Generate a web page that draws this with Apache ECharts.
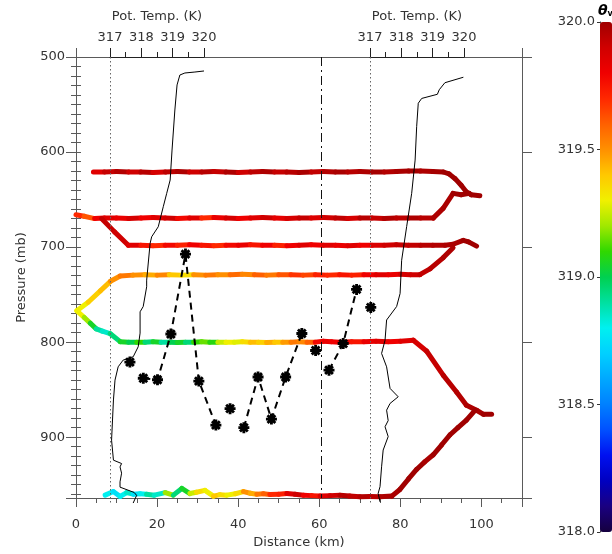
<!DOCTYPE html>
<html>
<head>
<meta charset="utf-8">
<script src="https://cdn.jsdelivr.net/npm/echarts@6/dist/echarts.min.js"></script>
<style>
  html, body { margin: 0; padding: 0; background: #ffffff; }
  #chart { width: 612px; height: 554px; }
</style>
</head>
<body>
<div id="chart"></div>
<script>
// ---- Flight legs: distance (km), pressure (mb), virtual potential temperature (K) ----
const legA_dist  = [4.3, 7, 10, 13, 16, 19, 22, 25, 28, 31, 34, 37, 40, 43, 46, 49, 52, 55, 58, 61, 64, 67, 70, 73, 76, 79, 82, 85, 88, 90.6, 92, 93.5, 95, 96.3, 97.5, 99.6];
const legA_pres  = [621, 621, 620.5, 621, 621, 621.5, 621, 620.5, 621, 621, 620.5, 621, 621.5, 621, 620.5, 621, 621, 621.5, 621, 620.5, 621, 621, 620.5, 621, 621, 620.5, 620, 620, 620.5, 621, 623, 628, 635, 642, 645, 646];
const legA_theta = [319.85, 319.92, 319.96, 319.9, 319.95, 319.88, 319.94, 319.97, 319.9, 319.95, 319.92, 319.97, 319.9, 319.94, 319.97, 319.92, 319.95, 319.98, 319.93, 319.96, 319.98, 319.95, 319.97, 319.99, 319.96, 319.98, 319.99, 319.97, 319.99, 320, 320, 320, 320, 320, 320, 320];

const legB_dist  = [0, 2, 4.6, 7, 10, 13, 16, 19, 22, 25, 28, 31, 34, 37, 40, 43, 46, 49, 52, 55, 58, 61, 64, 67, 70, 73, 76, 79, 82, 85, 88.1, 90.6, 93, 95, 97];
const legB_pres  = [666, 667.5, 670, 669.5, 669.5, 670, 669.5, 669, 669.5, 670, 669.5, 669.5, 669, 669.5, 670, 669.5, 669, 669.5, 670, 669.5, 669.5, 669, 669.5, 670, 669.5, 669.5, 670, 669.5, 669.5, 669.5, 669.5, 659, 643.5, 645, 643.5];
const legB_theta = [319.7, 319.62, 319.8, 319.85, 319.82, 319.88, 319.8, 319.85, 319.9, 319.78, 319.85, 319.7, 319.82, 319.88, 319.8, 319.85, 319.9, 319.83, 319.88, 319.92, 319.86, 319.9, 319.93, 319.88, 319.95, 319.92, 319.96, 319.94, 319.97, 319.95, 319.97, 319.98, 320, 320, 320];

const legC_dist  = [6.3, 9.5, 12.9, 16, 19, 22, 25, 28, 31, 34, 37, 40, 43, 46, 49, 52, 55, 58, 61, 64, 67, 70, 73, 76, 79, 82, 85, 88, 91, 93, 95.5, 96.8, 98.8];
const legC_pres  = [670, 684, 698, 698, 698.5, 698, 698, 697.5, 698, 698.5, 698, 698, 697.5, 698, 698, 698.5, 698, 697.5, 698, 698, 698.5, 698, 698, 698, 697.5, 698, 698, 698, 698, 697, 693, 694.5, 699];
const legC_theta = [319.92, 319.9, 319.85, 319.75, 319.7, 319.78, 319.72, 319.8, 319.75, 319.7, 319.78, 319.82, 319.75, 319.8, 319.72, 319.8, 319.85, 319.8, 319.85, 319.82, 319.85, 319.8, 319.87, 319.9, 319.92, 319.93, 319.95, 319.96, 319.97, 319.98, 320, 320, 320];

const legD_dist  = [0.2, 3, 6, 8.5, 10.9, 14, 17, 20, 23, 26, 29, 32, 35, 38, 41, 44, 47, 50, 53, 56, 59, 62, 65, 68, 71, 74, 77, 80, 82.5, 84.8, 87.3, 90.6, 93];
const legD_pres  = [767, 758, 746, 736, 730.5, 729.5, 729, 729.5, 729, 729.5, 729, 729.5, 729, 729, 728.5, 729, 729.5, 729, 729, 729.5, 729, 729.5, 729, 729.5, 729, 729, 729, 728.5, 729, 729, 723, 711, 700.7];
const legD_theta = [319.3, 319.38, 319.42, 319.5, 319.55, 319.5, 319.45, 319.52, 319.4, 319.35, 319.5, 319.55, 319.5, 319.58, 319.52, 319.6, 319.55, 319.62, 319.68, 319.65, 319.72, 319.7, 319.75, 319.72, 319.8, 319.85, 319.82, 319.88, 319.9, 319.93, 319.95, 319.97, 320];

const legE_dist  = [0.2, 2, 3.5, 5, 6.5, 8.4, 10.9, 13, 15, 17, 19, 21, 23, 25, 27, 29, 31, 33, 35, 37, 39, 41, 43, 45, 47, 49, 51, 53, 55, 57, 59, 61, 63, 65, 68, 71, 74, 77, 80, 83.2, 86.5, 90.6, 93.9, 96.3, 98.8, 100.5, 102.5];
const legE_pres  = [767, 774, 780, 786, 788.5, 791, 799.5, 800, 800, 800, 799.5, 800, 800, 800.5, 800, 800, 799.5, 800, 800, 800, 800, 799.5, 800, 800, 800.5, 800, 800, 800, 799.5, 800, 800, 799, 799.5, 800, 799.5, 799.5, 799, 799.5, 799, 798, 809.6, 835, 852.7, 866.5, 871.7, 876, 876];
const legE_theta = [319.3, 319.2, 319.05, 318.9, 318.85, 318.95, 319.05, 319.0, 319.1, 318.95, 319.05, 318.9, 319.0, 319.05, 318.95, 319.1, 319.15, 319.08, 319.25, 319.3, 319.28, 319.35, 319.42, 319.38, 319.45, 319.4, 319.48, 319.55, 319.52, 319.6, 319.78, 319.82, 319.8, 319.85, 319.75, 319.82, 319.85, 319.8, 319.85, 319.88, 319.92, 319.95, 319.96, 319.97, 319.98, 320, 320];

const legF_dist  = [7.2, 9.2, 10.9, 12.5, 14.1, 15.8, 17.4, 19.3, 22, 24, 26.1, 28.1, 29.7, 31.8, 33.9, 35.5, 37.2, 39.3, 41.3, 43, 44.6, 46.2, 47.8, 50, 52, 54, 56.1, 58.2, 60.2, 62.6, 65.1, 67.5, 70, 72.5, 75, 77.9, 79.9, 82, 84, 86, 88.1, 90.2, 92.2, 94.2, 96.3, 98.4];
const legF_pres  = [961, 957.2, 962.4, 958.3, 960, 959.5, 960, 961, 958.3, 961, 954, 959.3, 958, 956, 962, 960.5, 961, 959.5, 957.3, 959, 960, 959.5, 960.3, 960, 959.3, 960, 961, 961.5, 961.8, 961.5, 961, 962, 962.7, 962.5, 962.7, 962, 955, 944, 934, 926, 918.5, 908, 897.7, 890, 882, 871.7];
const legF_theta = [318.8, 318.75, 318.8, 318.85, 318.75, 318.8, 318.9, 318.85, 319.2, 318.95, 319.05, 319.25, 319.35, 319.3, 319.4, 319.35, 319.3, 319.35, 319.5, 319.45, 319.55, 319.6, 319.7, 319.72, 319.85, 319.9, 319.8, 319.75, 319.85, 319.9, 319.95, 319.93, 319.96, 319.95, 319.97, 319.98, 320, 320, 320, 319.98, 320, 320, 320, 320, 320, 320];

// ---- Sounding profiles: potential temperature (K) vs pressure (mb) ----
const westTheta = [317.74, 317.85, 317.77, 317.32, 317.32, 317.37, 317.32, 317.37, 317.11, 317.05, 317.11, 317.16, 317.26, 317.42, 317.74, 317.90, 317.96, 317.96, 318.06, 318.17, 318.17, 318.28, 318.33, 318.54, 318.70, 318.81, 318.92, 318.98, 319.07, 319.14, 319.23, 319.39, 319.71, 320.0];
const westPres  = [963, 955, 952, 946.5, 941, 932, 925.5, 922, 918.5, 897.7, 856, 835.4, 821.6, 814.6, 811.2, 800.8, 786.6, 764.5, 759, 738.5, 731.6, 693.5, 686.6, 676.2, 655.4, 641.5, 627.7, 596.6, 555, 529, 518.7, 516.6, 515.6, 514.5];
const eastTheta = [317.32, 317.26, 317.32, 317.37, 317.42, 317.58, 317.48, 317.58, 317.53, 317.64, 317.90, 317.64, 317.53, 317.37, 317.48, 317.53, 317.85, 317.96, 318.01, 318.17, 318.33, 318.44, 318.49, 318.54, 318.65, 319.15, 319.21, 319.39, 319.98];
const eastPres  = [961.8, 953, 946, 925.4, 908, 894, 883.8, 877.4, 866.6, 859.6, 852.7, 844, 821.6, 807.7, 794, 773, 759, 745.5, 711, 676, 641.5, 607, 572, 548, 543, 538.7, 534, 526.7, 521];

// ---- Marked points (asterisks) and which ones are joined by the dashed trace ----
const starDist  = [13.3, 16.6, 20.1, 23.4, 27.0, 30.3, 34.5, 38.0, 41.4, 44.9, 48.2, 51.7, 55.7, 59.1, 62.4, 65.9, 69.2, 72.7];
const starPres  = [821, 838, 839.6, 791.5, 707.4, 841, 887.3, 870, 890, 836.7, 881, 836.7, 790.9, 808.8, 829.5, 801.5, 744.5, 763.5];
const starGroup = [0, 1, 1, 1, 1, 1, 1, 2, 3, 3, 3, 3, 3, 4, 5, 5, 5, 6];

// ---- Reference lines and axis ranges ----
const refDistance = [60.4];          // dash-dot marker line (km)
const thetaAxisBase = 317;           // dotted line on each theta axis
const pressureRange = [500, 964];
const distanceRange = [0, 110];
const thetaAxisRange = [317, 320];
const colorRange = [318, 320];
const colorStops = ['#15003f', '#1a0080', '#0000c0', '#0010f0', '#0050ff', '#0080ff', '#00a8ff', '#00d0ff', '#00f0f0', '#00e0a0',
                    '#00d050', '#30d800', '#a0e800', '#f0f000', '#ffc800', '#ff9000', '#ff6000', '#ff2800', '#f00000', '#d00000', '#a00000'];

const FONT = 'DejaVu Sans';
const AXIS_GRAY = '#5a5a5a';
const TEXT = '#333';

function segments(d, p, t) {
  const rows = [];
  for (let i = 0; i < d.length - 1; i++) rows.push([d[i], p[i], t[i], d[i + 1], p[i + 1]]);
  return rows;
}
function zip(a, b) { return a.map((v, i) => [v, b[i]]); }

const legs = [
  [legA_dist, legA_pres, legA_theta],
  [legB_dist, legB_pres, legB_theta],
  [legC_dist, legC_pres, legC_theta],
  [legD_dist, legD_pres, legD_theta],
  [legE_dist, legE_pres, legE_theta],
  [legF_dist, legF_pres, legF_theta]
];

function renderSegment(params, api) {
  const a = api.coord([api.value(0), api.value(1)]);
  const b = api.coord([api.value(3), api.value(4)]);
  return {
    type: 'line',
    shape: { x1: a[0], y1: a[1], x2: b[0], y2: b[1] },
    style: { stroke: api.visual('color'), lineWidth: 5, lineCap: 'round' }
  };
}

const legSeries = legs.map(l => ({
  type: 'custom',
  xAxisIndex: 0, yAxisIndex: 0,
  renderItem: renderSegment,
  encode: { x: 0, y: 1 },
  data: segments(l[0], l[1], l[2]),
  z: 2
}));

// dashed trace through the asterisks, broken between groups
const starLine = [];
for (let i = 0; i < starDist.length; i++) {
  if (i > 0 && starGroup[i] !== starGroup[i - 1]) starLine.push(['-', '-']);
  starLine.push([starDist[i], starPres[i]]);
}

const asterisk = 'path://M-1.3,-5L1.3,-5L1.3,5L-1.3,5Z M-5,-1.3L5,-1.3L5,1.3L-5,1.3Z ' +
  'M-4.46,-2.62L-2.62,-4.46L4.46,2.62L2.62,4.46Z M2.62,-4.46L4.46,-2.62L-2.62,4.46L-4.46,2.62Z';

const labelStyle = { color: TEXT, fontFamily: FONT, fontSize: 13 };
const dottedMark = {
  silent: true, symbol: 'none', label: { show: false },
  lineStyle: { type: [1.5, 2.5], color: '#666', width: 1 },
  data: [{ xAxis: thetaAxisBase }]
};

function pressureAxisHidden(grid) {
  return { type: 'value', gridIndex: grid, show: false, inverse: true, min: pressureRange[0], max: pressureRange[1] };
}
function thetaAxes(grid) {
  return [
    {
      type: 'value', gridIndex: grid, position: 'top', min: thetaAxisRange[0], max: thetaAxisRange[1], interval: 1,
      name: 'Pot. Temp. (K)', nameLocation: 'middle', nameGap: 34,
      nameTextStyle: labelStyle,
      axisLine: { show: true, onZero: false, lineStyle: { color: '#222', width: 1 } },
      axisTick: { show: true, inside: false, length: 9, lineStyle: { color: '#222' } },
      axisLabel: Object.assign({ margin: 13 }, labelStyle),
      splitLine: { show: false }
    },
    {
      type: 'value', gridIndex: grid, position: 'top', min: thetaAxisRange[0], max: thetaAxisRange[1], interval: 0.5,
      axisLine: { show: false },
      axisTick: { show: true, inside: false, length: 5, lineStyle: { color: '#222' } },
      axisLabel: { show: false }, splitLine: { show: false }
    }
  ];
}

const option = {
  animation: false,
  backgroundColor: '#ffffff',
  textStyle: { fontFamily: FONT },
  title: {
    text: '{t|θ}{s|v}', left: 598, top: 4, padding: 0,
    textStyle: { rich: { t: { fontFamily: FONT, fontSize: 14, fontWeight: 'bold', fontStyle: 'italic', color: '#000' },
                         s: { fontFamily: FONT, fontSize: 8, fontWeight: 'bold', color: '#000', verticalAlign: 'bottom', padding: [6, 0, 0, 0] } } }
  },
  grid: [
    { left: 76, top: 57, width: 446, height: 447 },
    { left: 110, top: 57, width: 94, height: 447 },
    { left: 370, top: 57, width: 94, height: 447 },
    { left: 600, top: 22, width: 12, height: 510 }
  ],
  xAxis: [
    {
      type: 'value', gridIndex: 0, position: 'bottom', min: distanceRange[0], max: distanceRange[1], interval: 20,
      name: 'Distance (km)', nameLocation: 'middle', nameGap: 38, nameTextStyle: labelStyle,
      axisLine: { show: true, onZero: false, lineStyle: { color: AXIS_GRAY } },
      axisTick: { show: true, inside: false, length: 9, lineStyle: { color: AXIS_GRAY } },
      axisLabel: Object.assign({ margin: 20, formatter: v => (v % 20 === 0 ? String(v) : '') }, labelStyle),
      splitLine: { show: false }
    },
    {
      type: 'value', gridIndex: 0, position: 'bottom', min: distanceRange[0], max: distanceRange[1], interval: 5,
      axisLine: { show: false }, axisLabel: { show: false }, splitLine: { show: false },
      axisTick: { show: true, inside: false, length: 5, lineStyle: { color: AXIS_GRAY } }
    },
    {
      type: 'value', gridIndex: 0, position: 'top', min: distanceRange[0], max: distanceRange[1], interval: 110,
      axisLine: { show: true, onZero: false, lineStyle: { color: AXIS_GRAY } },
      axisLabel: { show: false }, splitLine: { show: false },
      axisTick: { show: true, inside: false, length: 9, lineStyle: { color: AXIS_GRAY } }
    },
    ...thetaAxes(1),
    ...thetaAxes(2),
    { type: 'category', gridIndex: 3, show: false, data: ['bar'] }
  ],
  yAxis: [
    {
      type: 'value', gridIndex: 0, position: 'left', inverse: true, min: pressureRange[0], max: pressureRange[1], interval: 100,
      name: 'Pressure (mb)', nameLocation: 'middle', nameGap: 48, nameTextStyle: labelStyle,
      axisLine: { show: true, onZero: false, lineStyle: { color: AXIS_GRAY } },
      axisTick: { show: true, inside: false, length: 10, lineStyle: { color: AXIS_GRAY } },
      axisLabel: Object.assign({ margin: 11, formatter: v => (v % 100 === 0 ? String(v) : '') }, labelStyle),
      splitLine: { show: false }
    },
    {
      type: 'value', gridIndex: 0, position: 'left', inverse: true, min: pressureRange[0], max: pressureRange[1], interval: 10,
      axisLine: { show: false }, axisLabel: { show: false }, splitLine: { show: false },
      axisTick: { show: true, inside: false, length: 5, lineStyle: { color: AXIS_GRAY } }
    },
    {
      type: 'value', gridIndex: 0, position: 'right', inverse: true, min: pressureRange[0], max: pressureRange[1], interval: 100,
      axisLine: { show: true, onZero: false, lineStyle: { color: AXIS_GRAY } },
      axisTick: { show: true, inside: false, length: 10, lineStyle: { color: AXIS_GRAY } },
      axisLabel: { show: false }, splitLine: { show: false }
    },
    {
      type: 'value', gridIndex: 0, position: 'right', inverse: true, min: pressureRange[0], max: pressureRange[1], interval: 10,
      axisLine: { show: false }, axisLabel: { show: false }, splitLine: { show: false },
      axisTick: { show: true, inside: false, length: 5, lineStyle: { color: AXIS_GRAY } }
    },
    pressureAxisHidden(1),
    pressureAxisHidden(2),
    {
      type: 'value', gridIndex: 3, position: 'left', min: colorRange[0], max: colorRange[1], interval: 0.5,
      axisLine: { show: true, onZero: false, lineStyle: { color: '#333' } },
      axisTick: { show: true, inside: false, length: 3, lineStyle: { color: '#333' } },
      axisLabel: Object.assign({ margin: 5, formatter: v => v.toFixed(1) }, labelStyle),
      splitLine: { show: false }
    }
  ],
  visualMap: {
    type: 'continuous', min: colorRange[0], max: colorRange[1], dimension: 2,
    seriesIndex: [0, 1, 2, 3, 4, 5],
    inRange: { color: colorStops },
    orient: 'vertical', left: 600, top: 22, itemWidth: 12, itemHeight: 510,
    padding: 0, calculable: false, showLabel: false, text: null, hoverLink: false
  },
  series: [
    ...legSeries,
    {
      type: 'line', xAxisIndex: 3, yAxisIndex: 4, data: zip(westTheta, westPres),
      showSymbol: false, clip: false, z: 4,
      lineStyle: { color: '#000', width: 1 },
      markLine: dottedMark
    },
    {
      type: 'line', xAxisIndex: 5, yAxisIndex: 5, data: zip(eastTheta, eastPres),
      showSymbol: false, clip: false, z: 4,
      lineStyle: { color: '#000', width: 1 },
      markLine: dottedMark
    },
    {
      type: 'line', xAxisIndex: 0, yAxisIndex: 0, data: starLine, connectNulls: false,
      symbol: asterisk, symbolSize: 11, showSymbol: true, z: 5,
      itemStyle: { color: '#000' },
      lineStyle: { color: '#000', width: 2, type: [7, 5] },
      markLine: {
        silent: true, symbol: 'none', label: { show: false },
        lineStyle: { type: [9, 4, 2, 4], color: '#111', width: 1 },
        data: refDistance.map(v => ({ xAxis: v }))
      }
    }
  ]
};

const chart = echarts.init(document.getElementById('chart'), null, { renderer: 'canvas' });
chart.setOption(option);
</script>
</body>
</html>
